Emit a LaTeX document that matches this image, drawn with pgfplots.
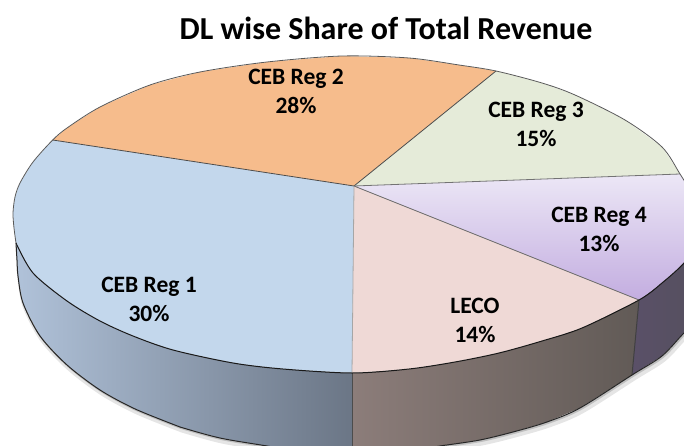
\documentclass[border=0pt]{standalone}
\usepackage{fontspec}
\setmainfont{Carlito}
\usepackage{pgfplots}
\pgfplotsset{compat=1.18}
\definecolor{cblue}{HTML}{C3D7EC}
\definecolor{corange}{HTML}{F6BC8C}
\definecolor{cgreen}{HTML}{E5EBD9}
\definecolor{cpink}{HTML}{EFD9D6}
\tikzset{lab/.style={font=\fontsize{23.5}{29}\selectfont\bfseries, align=center, text=black}}
\begin{document}
\begin{tikzpicture}
\begin{axis}[
  name=ax,
  scale only axis, width=684pt, height=446pt,
  xmin=0, xmax=684, ymin=0, ymax=446, y dir=reverse,
  hide axis, clip=true,
  every axis plot/.append style={no marks}
]
% soft shadow below the bottom edge
\addplot[black!10, line width=5pt, smooth] coordinates {(18,246)(19,262)(20,278)(25,306)(42,339)(69,368)(102,393)(135,411)(169,425)(182,430)(222,441)(269,449)(352,463)(442,449)(449,448)(482,443)(515,435)(549,425)(582,411)(634,378)(664,359)(686,336)(702,323)};
\addplot[black!25, line width=2pt, smooth] coordinates {(17,245)(18,261)(19,277)(24,304)(41,337)(68,366)(101,391)(134,409)(168,423)(181,428)(221,439)(268,447)(352,461)(441,447)(448,446)(481,441)(514,433)(548,423)(581,409)(633,376)(663,357)(685,334)(701,321)};
% side faces
\addplot[draw=none, left color={rgb,255:red,176;green,194;blue,217}, middle color={rgb,255:red,149;green,165;blue,187}, right color={rgb,255:red,107;green,118;blue,134}] coordinates {(16,243)(33,273)(67,301)(100,321)(133,336)(173,350)(233,363)(283,369)(352,373)(352,460)(267,446)(220,438)(180,427)(167,422)(133,408)(100,390)(67,365)(40,336)(23,303)(18,276)(17,260)} -- cycle;
\addplot[draw=none, left color={rgb,255:red,140;green,125;blue,122}, middle color={rgb,255:red,94;green,85;blue,82}, right color={rgb,255:red,97;green,90;blue,86}] coordinates {(352,373)(409,369)(455,362)(499,353)(542,341)(582,328)(639,300)(632,375)(580,408)(547,422)(513,432)(480,440)(447,445)(440,446)(352,460)} -- cycle;
\addplot[draw=none, left color={rgb,255:red,90;green,80;blue,104}, right color={rgb,255:red,85;green,80;blue,94}] coordinates {(639,300)(662,283)(684,263)(700,240)(700,320)(684,333)(662,356)(632,375)} -- cycle;
% top faces
\addplot[draw=none, fill=cblue] coordinates {(52.7,140)(354,186)(352,373)(283,369)(233,363)(173,350)(133,336)(100,321)(67,301)(33,273)(16,243)(14,228)(13,213)(15,197)(20,183)(33,162)} -- cycle;
\addplot[draw=none, fill=corange] coordinates {(52.7,140)(67,128)(100,107)(150,85)(200,72)(267,62)(342,56)(409,58)(459,65)(496,71)(354,186)} -- cycle;
\addplot[draw=none, fill=cgreen] coordinates {(496,71)(542,83)(575,95)(625,120)(662,147)(680,174)(354,186)} -- cycle;
\addplot[draw=none, top color={rgb,255:red,236;green,231;blue,246}, bottom color={rgb,255:red,195;green,173;blue,224}] coordinates {(354,186)(680,174)(690,190)(693,215)(690,240)(684,263)(662,283)(639,300)} -- cycle;
\addplot[draw=none, fill=cpink] coordinates {(354,186)(639,300)(582,328)(542,341)(499,353)(455,362)(409,369)(352,373)} -- cycle;
% slice dividers
\addplot[black!70, line width=0.8pt] coordinates {(52.7,140)(354,186)(496,71)};
\addplot[black!55, line width=0.8pt] coordinates {(354,186)(680,174)};
\addplot[black!60, line width=0.8pt] coordinates {(354,186)(639,300)};
\addplot[black!35, line width=0.8pt] coordinates {(354,186)(352,373)};
\addplot[black!70, line width=1pt] coordinates {(352,373)(352,460)};
\addplot[black!75, line width=1pt] coordinates {(639,300)(632,375)};
% rim: upper, lower and outer edge
\addplot[black!65, line width=0.8pt, smooth] coordinates {(16,243)(14,228)(13,213)(15,197)(20,183)(33,162)(52.7,140)(67,128)(100,107)(150,85)(200,72)(267,62)(342,56)(409,58)(459,65)(496,71)(542,83)(575,95)(625,120)(662,147)(680,174)(690,190)};
\addplot[black!90, line width=1pt, smooth] coordinates {(16,243)(33,273)(67,301)(100,321)(133,336)(173,350)(233,363)(283,369)(352,373)(409,369)(455,362)(499,353)(542,341)(582,328)(639,300)(662,283)(684,263)(700,240)};
\addplot[black!85, line width=1pt, smooth] coordinates {(16,243)(17,260)(18,276)(23,303)(40,336)(67,365)(100,390)(133,408)(167,422)(180,427)(220,438)(267,446)(352,460)(440,446)(447,445)(480,440)(513,432)(547,422)(580,408)(632,375)(662,356)(684,333)(700,320)};
% labels
\node[lab] at (axis cs:296,91) {CEB Reg 2\\28\%};
\node[lab] at (axis cs:536,124.5) {CEB Reg 3\\15\%};
\node[lab] at (axis cs:599,229) {CEB Reg 4\\13\%};
\node[lab] at (axis cs:475,320) {LECO\\14\%};
\node[lab] at (axis cs:149,299) {CEB Reg 1\\30\%};
\node[font=\fontsize{32}{34}\selectfont\bfseries, text=black] at (axis cs:386,28) {DL wise Share of Total Revenue};
\end{axis}
\pgfresetboundingbox
\path[use as bounding box] (ax.south west) rectangle (ax.north east);
\end{tikzpicture}
\end{document}
